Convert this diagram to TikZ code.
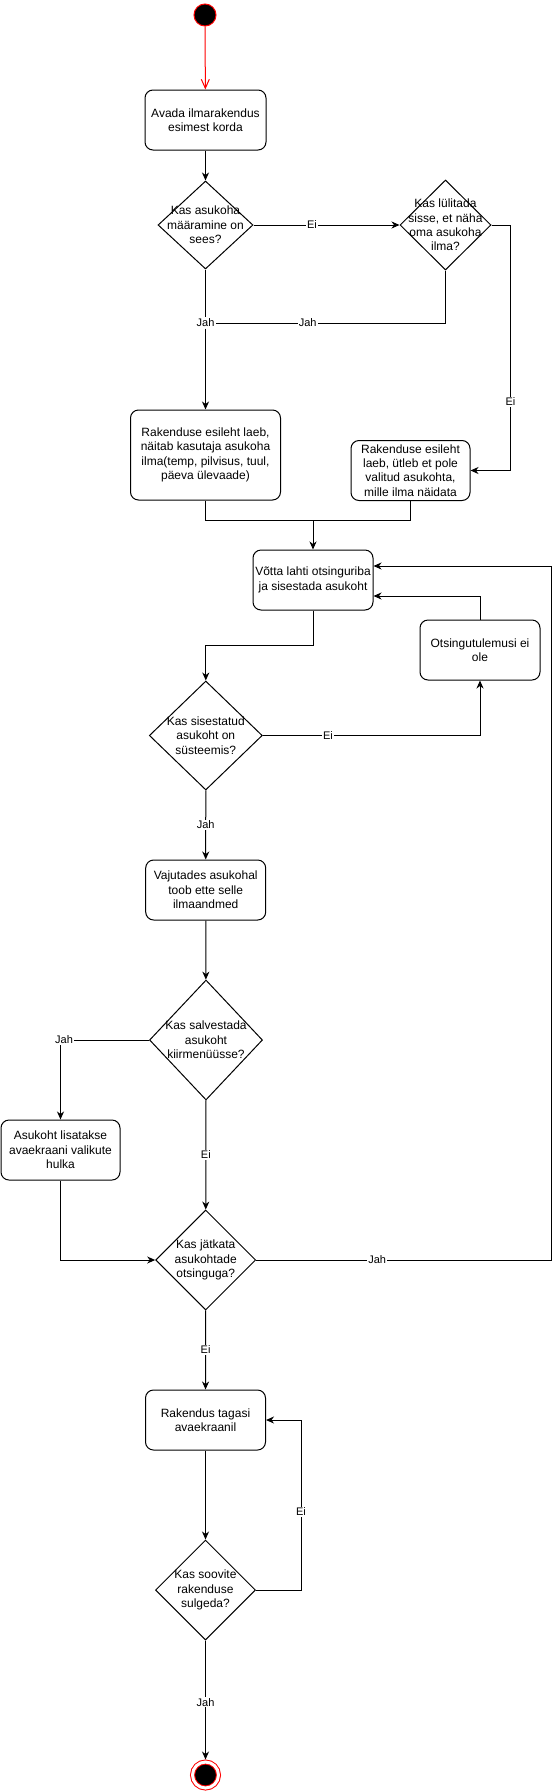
\documentclass[tikz,border=0pt]{standalone}
\usepackage{fontspec}
\setmainfont{Liberation Sans}
\usetikzlibrary{shapes.geometric,arrows.meta}
\tikzset{
  box/.style={draw, rounded corners=8pt, align=center, inner sep=1pt,
    minimum width=120pt, minimum height=60pt, font=\fontsize{12}{14.4}\selectfont},
  dec/.style={draw, diamond, inner sep=0pt},
  qtxt/.style={align=center, inner sep=0pt, font=\fontsize{12}{14.4}\selectfont},
  arr/.style={-{Stealth[length=8pt,width=7pt,inset=2.5pt]}},
  lbl/.style={fill=white, inner sep=1pt, font=\fontsize{11}{13}\selectfont},
  start/.style={circle, draw=red, fill=black, minimum size=22pt, inner sep=0pt},
  stop/.style={circle, draw=red, fill=black, double=white, double distance=3pt,
    minimum size=26pt, inner sep=0pt, outer sep=2.5pt}
}
\begin{document}
\begin{tikzpicture}[x=1pt, y=-1pt, line width=1pt]
  \useasboundingbox (0,0) rectangle (559,1791);
  \draw
    (205,15) node[start] (0){}
    (205.5,120) node[box, minimum width=121pt] (1){Avada ilmarakendus\\esimest korda}
    (205.5,225) node[dec, minimum width=95pt, minimum height=88pt,
      label={[qtxt]center:Kas asukoha\\määramine on\\sees?}] (2){}
    (445.5,225) node[dec, minimum width=91pt, minimum height=90pt,
      label={[qtxt]center:Kas lülitada\\sisse, et näha\\oma asukoha\\ilma?}] (3){}
    (205.5,455) node[box, minimum width=150pt, minimum height=90pt] (4){Rakenduse esileht laeb,\\näitab kasutaja asukoha\\ilma(temp, pilvisus, tuul,\\päeva ülevaade)}
    (410.5,470.5) node[box, minimum width=119pt] (5){Rakenduse esileht\\laeb, ütleb et pole\\valitud asukohta,\\mille ilma näidata}
    (313,580) node[box] (6){Võtta lahti otsinguriba\\ja sisestada asukoht}
    (480,650) node[box] (7){Otsingutulemusi ei\\ole}
    (205.8,735.5) node[dec, minimum width=113pt, minimum height=109pt,
      label={[qtxt]center:Kas sisestatud\\asukoht on\\süsteemis?}] (8){}
    (205.7,890) node[box] (9){Vajutades asukohal\\toob ette selle\\ilmaandmed}
    (206,1040) node[dec, minimum width=113pt, minimum height=120pt,
      label={[qtxt]center:Kas salvestada\\asukoht\\kiirmenüüsse?}] (10){}
    (60.5,1150) node[box, minimum width=119pt] (11){Asukoht lisatakse\\avaekraani valikute\\hulka}
    (205.7,1260) node[dec, minimum width=100pt, minimum height=100pt,
      label={[qtxt]center:Kas jätkata\\asukohtade\\otsinguga?}] (12){}
    (205.5,1420) node[box] (13){Rakendus tagasi\\avaekraanil}
    (205.5,1590) node[dec, minimum width=100pt, minimum height=100pt,
      label={[qtxt]center:Kas soovite\\rakenduse\\sulgeda?}] (14){}
    (205.5,1775) node[stop] (15){};
  \node[lbl] (jah1) at (205.5,323) {Jah};
  \coordinate (j1) at (313,520);
  \draw[red, -{Straight Barb[length=9pt,width=8pt]}] (0) -- (1);
  \begin{scope}[arr]
    \draw (1) -- (2);
    \draw (2) -- node[lbl,pos=0.4]{Ei} (3);
    \draw[-] (2) -- (jah1);
    \draw (jah1) -- (4);
    \draw[-] (3.south) |- node[lbl,pos=0.8]{Jah} (jah1);
    \draw (3.east) -- ++(19,0) |- node[lbl,pos=0.36]{Ei} (5.east);
    \draw[-] (4.south) |- (j1);
    \draw[-] (5.south) |- (j1);
    \draw (j1) -- (6);
    \draw (6.south) -- ++(0,35) -| (8.north);
    \draw (8.east) -| node[lbl,pos=0.15]{Ei} (7.south);
    \draw (7.north) |- ([yshift=-16pt]6.east);
    \draw (8) -- node[lbl]{Jah} (9);
    \draw (9) -- (10);
    \draw (10.west) -| node[lbl,pos=0.48]{Jah} (11.north);
    \draw (10) -- node[lbl]{Ei} (12);
    \draw (11.south) |- (12.west);
    \draw (12.east) -- node[lbl,pos=0.41]{Jah} ++(295,0) |- ([yshift=14pt]6.east);
    \draw (12) -- node[lbl]{Ei} (13);
    \draw (13) -- (14);
    \draw (14.east) -- ++(45,0) |- node[lbl,pos=0.23]{Ei} (13.east);
    \draw (14) -- node[lbl,pos=0.52]{Jah} (15);
  \end{scope}
\end{tikzpicture}
\end{document}
